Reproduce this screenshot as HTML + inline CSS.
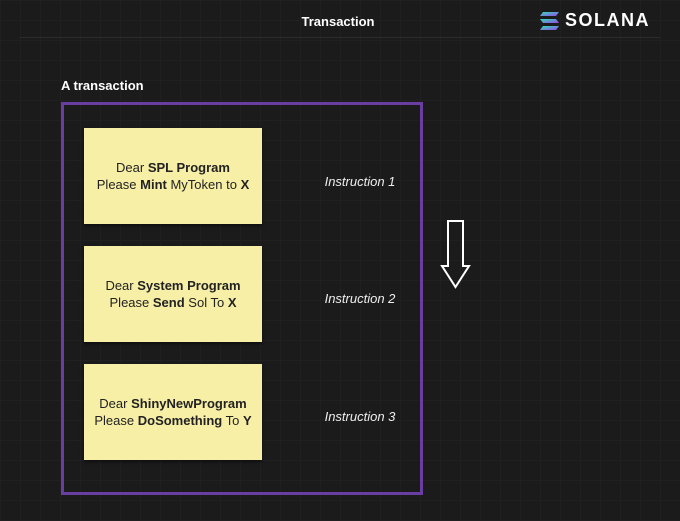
<!DOCTYPE html>
<html><head><style>
body{margin:0;width:680px;height:521px;background:#1b1b1b;position:relative;overflow:hidden;font-family:"Liberation Sans",sans-serif;
background-image:linear-gradient(#202020 1px,transparent 1px),linear-gradient(90deg,#202020 1px,transparent 1px);background-size:20px 20px;background-color:#1b1b1b}
.t{position:absolute;color:#fff;font-weight:bold}
.box{position:absolute;left:61px;top:102px;width:356px;height:387px;border:3px solid #6a3da3}
.s{position:absolute;left:84px;width:178px;height:96px;background:#f7efa6;color:#222;font-size:13px;line-height:17px;text-align:center;display:flex;align-items:center;justify-content:center;box-shadow:0 2px 3px rgba(0,0,0,.5)}
.i{position:absolute;left:300px;width:120px;text-align:center;color:#eee;font-style:italic;font-size:13px}
</style></head><body>
<div class="t" style="left:0;width:676px;text-align:center;top:14px;font-size:13px">Transaction</div>
<div style="position:absolute;left:20px;right:20px;top:37px;height:1px;background:#2c2c2c"></div>
<svg style="position:absolute;left:540px;top:12px" width="20" height="19"><defs><linearGradient id="g" x1="0" y1="0" x2="1" y2="1"><stop offset="0" stop-color="#2de0b0"/><stop offset="1" stop-color="#9a45f0"/></linearGradient></defs><polygon points="3,0 19,0 16,4 0,4" fill="url(#g)"/><polygon points="0,7 16,7 19,11 3,11" fill="url(#g)"/><polygon points="3,14 19,14 16,18 0,18" fill="url(#g)"/></svg>
<div class="t" style="left:565px;top:10px;font-size:18px;letter-spacing:1.5px">SOLANA</div>
<div class="t" style="left:61px;top:78px;font-size:13px">A transaction</div>
<div class="box"></div>
<div class="s" style="top:128px"><div>Dear <b>SPL Program</b><br>Please <b>Mint</b> MyToken to <b>X</b></div></div>
<div class="s" style="top:246px"><div>Dear <b>System Program</b><br>Please <b>Send</b> Sol To <b>X</b></div></div>
<div class="s" style="top:364px"><div>Dear <b>ShinyNewProgram</b><br>Please <b>DoSomething</b> To <b>Y</b></div></div>
<div class="i" style="top:174px">Instruction 1</div>
<div class="i" style="top:291px">Instruction 2</div>
<div class="i" style="top:409px">Instruction 3</div>
<svg style="position:absolute;left:440px;top:219px" width="32" height="72"><polygon points="8,2 23,2 23,47 29,47 15.5,68 2,47 8,47" fill="none" stroke="#fff" stroke-width="2"/></svg>
</body></html>
